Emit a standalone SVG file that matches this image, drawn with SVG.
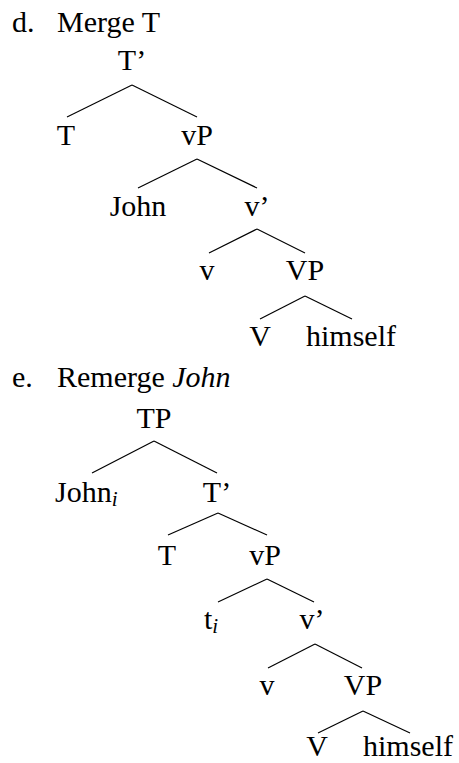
<svg xmlns="http://www.w3.org/2000/svg" width="459" height="763" viewBox="0 0 459 763">
<style>
text{font-family:"Liberation Serif",serif;font-size:30px;fill:#000}
.n{text-anchor:middle}
.sub{font-style:italic;font-size:21px}
.it{font-style:italic}
line{stroke:#000;stroke-width:1.2}
</style>
<rect width="459" height="763" fill="#fff"/>
<g id="label-d"><text x="12" y="32">d.</text><text x="57" y="32">Merge T</text></g>
<g id="d-Tbar"><text class="n" x="132" y="70">T’</text></g>
<g id="d-T"><text class="n" x="66" y="145">T</text></g>
<g id="d-vP"><text class="n" x="197" y="145">vP</text></g>
<g id="d-John"><text class="n" x="138" y="216">John</text></g>
<g id="d-vbar"><text class="n" x="257" y="216">v’</text></g>
<g id="d-v"><text class="n" x="207" y="280">v</text></g>
<g id="d-VP"><text class="n" x="305" y="280">VP</text></g>
<g id="d-V"><text class="n" x="260" y="346">V</text></g>
<g id="d-himself"><text class="n" x="351" y="346">himself</text></g>
<g id="label-e"><text x="12" y="387">e.</text><text x="57" y="387">Remerge <tspan class="it">John</tspan></text></g>
<g id="e-TP"><text class="n" x="154" y="428">TP</text></g>
<g id="e-John"><text x="55" y="502">John<tspan class="sub" dy="4">i</tspan></text></g>
<g id="e-Tbar"><text class="n" x="217" y="502">T’</text></g>
<g id="e-T"><text class="n" x="167" y="565">T</text></g>
<g id="e-vP"><text class="n" x="265" y="565">vP</text></g>
<g id="e-t"><text x="204" y="629">t<tspan class="sub" dy="4">i</tspan></text></g>
<g id="e-vbar"><text class="n" x="312" y="629">v’</text></g>
<g id="e-v"><text class="n" x="267" y="695">v</text></g>
<g id="e-VP"><text class="n" x="363" y="695">VP</text></g>
<g id="e-V"><text class="n" x="317" y="756">V</text></g>
<g id="e-himself"><text class="n" x="408" y="756">himself</text></g>
<g id="connectors">
<line x1="132" y1="85" x2="67" y2="117"/><line x1="132" y1="85" x2="197" y2="117"/>
<line x1="197" y1="159" x2="138" y2="188"/><line x1="197" y1="159" x2="257" y2="188"/>
<line x1="257" y1="229" x2="209" y2="253"/><line x1="257" y1="229" x2="305" y2="253"/>
<line x1="305" y1="296" x2="260" y2="319"/><line x1="305" y1="296" x2="352" y2="319"/>
<line x1="154" y1="441" x2="92" y2="473"/><line x1="154" y1="441" x2="217" y2="473"/>
<line x1="218" y1="513" x2="168" y2="535"/><line x1="218" y1="513" x2="267" y2="535"/>
<line x1="267" y1="579" x2="218" y2="602"/><line x1="267" y1="579" x2="314" y2="602"/>
<line x1="315" y1="644" x2="268" y2="668"/><line x1="315" y1="644" x2="362" y2="668"/>
<line x1="363" y1="711" x2="318" y2="733"/><line x1="363" y1="711" x2="410" y2="733"/>
</g>
</svg>
